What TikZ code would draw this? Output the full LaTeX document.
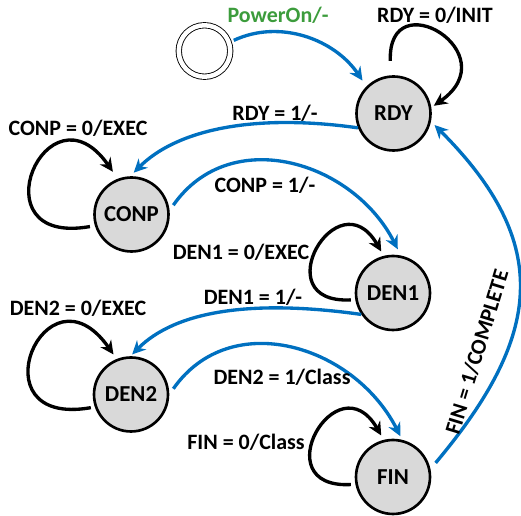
\documentclass[tikz,border=0pt]{standalone}
\usepackage{fontspec}
\setmainfont{Carlito}
\usetikzlibrary{arrows.meta,positioning}

\definecolor{trblue}{HTML}{0070C0}
\definecolor{trgreen}{HTML}{3C9C3C}
\definecolor{stategray}{HTML}{D9D9D9}

\begin{document}
\begin{tikzpicture}[
    x=0.02cm, y=-0.02cm,
    state/.style={circle, draw, line width=1.5pt, fill=stategray, minimum size=1.48cm, inner sep=0pt, font=\fontsize{13}{15}\selectfont\bfseries},
    init/.style={circle, draw, line width=0.5pt, double=white, double distance=0.9mm, minimum size=1.03cm, inner sep=0pt},
    trans/.style={draw=trblue, line width=1.9pt, -{Stealth[length=2.7mm,width=2.6mm]}},
    selfloop/.style={draw=black, line width=1.9pt, -{Stealth[length=2.7mm,width=2.6mm]}},
    lbl/.style={font=\fontsize{12.5}{14}\selectfont\bfseries, inner sep=1pt}
]
    \useasboundingbox (0,0) rectangle (521,516);

    % states
    \node[init] (start) at (204.5,51) {};
    \node[state] (rdy) at (393.5,113.5) {RDY};
    \node[state] (conp) at (131.5,214.5) {CONP};
    \node[state] (den1) at (393,293) {DEN1};
    \node[state] (den2) at (131,394.5) {DEN2};
    \node[state] (fin) at (393,477) {FIN};

    % transitions between states
    \draw[trans, shorten <=1mm, shorten >=1.4mm] (start.19) to[out=25, in=124] (rdy.135);
    \draw[trans, shorten >=1mm] (rdy.202) to[out=172, in=45, out looseness=1.2, in looseness=0.7] (conp.92);
    \draw[trans, shorten <=1.3mm, shorten >=1.4mm] (conp.6) to[out=55, in=117, looseness=1.15] (den1.78);
    \draw[trans, shorten >=0.5mm] (den1.214) to[out=172, in=45, out looseness=1.2, in looseness=0.7] (den2.91);
    \draw[trans, shorten <=1.4mm, shorten >=0.8mm] (den2.0) to[out=55, in=117, looseness=1.15] (fin.76);
    \draw[trans, shorten <=1.6mm, shorten >=1mm] (fin.12) to[out=50, in=-45, looseness=1.28] (rdy.-12);

    % self loops
    \draw[selfloop, shorten <=2.9mm, shorten >=0.6mm] (rdy.94) to[out=92, in=35, looseness=4.7] (rdy.9);
    \draw[selfloop, shorten <=1mm, shorten >=1.7mm] (conp.197) to[out=190, in=125, looseness=6] (conp.111);
    \draw[selfloop, shorten <=0.9mm, shorten >=1mm] (den1.190) to[out=183, in=120, looseness=4.5] (den1.104);
    \draw[selfloop, shorten <=0.8mm, shorten >=1.1mm] (den2.199) to[out=190, in=125, looseness=6] (den2.112);
    \draw[selfloop, shorten <=0.9mm, shorten >=1mm] (fin.191) to[out=183, in=120, looseness=4.5] (fin.104);

    % labels
    \node[lbl, text=trgreen] (lpower) at (278,15) {PowerOn/-};
    \node[lbl] (lrdy0) at (435,15) {RDY = 0/INIT};
    \node[lbl] (lrdy1) at (275,113) {RDY = 1/-};
    \node[lbl] (lconp0) at (78,128) {CONP = 0/EXEC};
    \node[lbl] (lconp1) at (265,185) {CONP = 1/-};
    \node[lbl] (lden10) at (241,252) {DEN1 = 0/EXEC};
    \node[lbl] (lden11) at (253,297) {DEN1 = 1/-};
    \node[lbl] (lden20) at (78,308) {DEN2 = 0/EXEC};
    \node[lbl] (lden21) at (282,377) {DEN2 = 1/Class};
    \node[lbl] (lfin0) at (246,442) {FIN = 0/Class};
    \node[lbl, rotate=73] (lfin1) at (477,352) {FIN = 1/COMPLETE};
\end{tikzpicture}
\end{document}
